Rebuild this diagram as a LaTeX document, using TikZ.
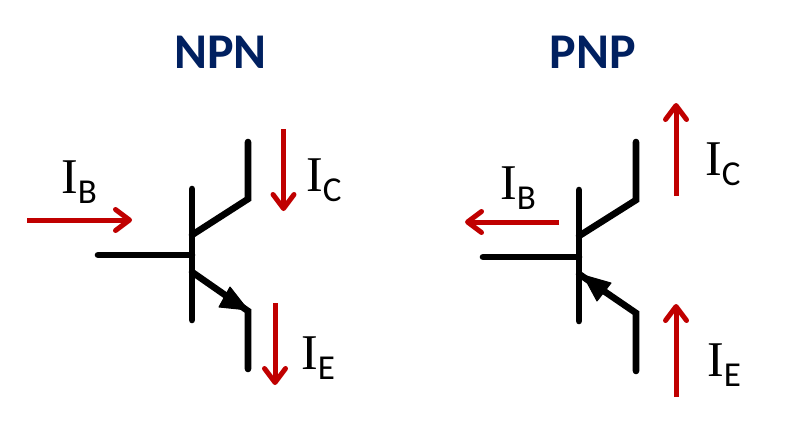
\documentclass[tikz,border=0pt]{standalone}
\usepackage{fontspec}
\setmainfont{Carlito}
\newfontfamily\serifI{Liberation Serif}
\usetikzlibrary{arrows.meta}
\definecolor{navy}{HTML}{002060}
\definecolor{curred}{HTML}{C00000}
\tikzset{
  x=1pt,y=-1pt,
  wire/.style={line width=6.6pt,black,line cap=round,line join=miter},
  current/.style={line width=5pt,curred,-{Straight Barb[length=14pt,width=21pt,line width=5pt,round]}},
  tip/.style={fill=black,draw=black,line width=1pt,line join=round},
  title/.style={font=\bfseries\fontsize{50}{50}\selectfont,text=navy,anchor=base,inner sep=0pt},
  curlabel/.style={anchor=base west,inner sep=0pt,font=\fontsize{35}{35}\selectfont},
}
\newcommand{\curI}[1]{{\serifI\fontsize{50}{50}\selectfont I}\raisebox{-10pt}{#1}}
\begin{document}
\begin{tikzpicture}
\useasboundingbox (0,0) rectangle (794,436);
\fill[white] (0,0) rectangle (794,436);
% titles
\node[title] (tn) at (220.5,68) {NPN};
\node[title] (tp) at (593,68) {PNP};
% NPN
\coordinate (nb1) at (192,189); \coordinate (nb2) at (192,320);
\coordinate (nbl) at (98,255); \coordinate (nbj) at (192,255);
\coordinate (ncj) at (192,235); \coordinate (nck) at (248,199); \coordinate (nct) at (248,142);
\coordinate (nej) at (192,272); \coordinate (nek) at (248,311); \coordinate (neb) at (248,369);
\draw[wire] (nb1) -- (nb2);
\draw[wire] (nbl) -- (nbj);
\draw[wire] (nct) -- (nck) -- (ncj);
\draw[wire] (nej) -- (nek) -- (neb);
\fill[tip] (248,310) -- (230,287) -- (219,307) -- cycle;
\coordinate (nib1) at (27,220); \coordinate (nib2) at (132,220);
\coordinate (nic1) at (283.5,129); \coordinate (nic2) at (283.5,211);
\coordinate (nie1) at (275,303); \coordinate (nie2) at (275,385);
\draw[current] (nib1) -- (nib2);
\draw[current] (nic1) -- (nic2);
\draw[current] (nie1) -- (nie2);
\node[curlabel] (lib) at (61,193) {\curI{B}};
\node[curlabel] (lic) at (306,191) {\curI{C}};
\node[curlabel] (lie) at (301,369) {\curI{E}};
% PNP
\coordinate (pb1) at (579,190); \coordinate (pb2) at (579,321);
\coordinate (pbl) at (483,257); \coordinate (pbj) at (579,257);
\coordinate (pcj) at (579,236); \coordinate (pck) at (636,200); \coordinate (pct) at (636,142);
\coordinate (pej) at (579,274); \coordinate (pek) at (636,313); \coordinate (peb) at (636,371);
\draw[wire] (pb1) -- (pb2);
\draw[wire] (pbl) -- (pbj);
\draw[wire] (pct) -- (pck) -- (pcj);
\draw[wire] (pej) -- (pek) -- (peb);
\fill[tip] (583,275) -- (611,283) -- (597,301) -- cycle;
\coordinate (pib1) at (559,222); \coordinate (pib2) at (465,222);
\coordinate (pic1) at (676,196); \coordinate (pic2) at (676,103);
\coordinate (pie1) at (676,397); \coordinate (pie2) at (676,304);
\draw[current] (pib1) -- (pib2);
\draw[current] (pic1) -- (pic2);
\draw[current] (pie1) -- (pie2);
\node[curlabel] (pilb) at (500,199) {\curI{B}};
\node[curlabel] (pilc) at (705,175) {\curI{C}};
\node[curlabel] (pile) at (707,376) {\curI{E}};
\end{tikzpicture}
\end{document}
